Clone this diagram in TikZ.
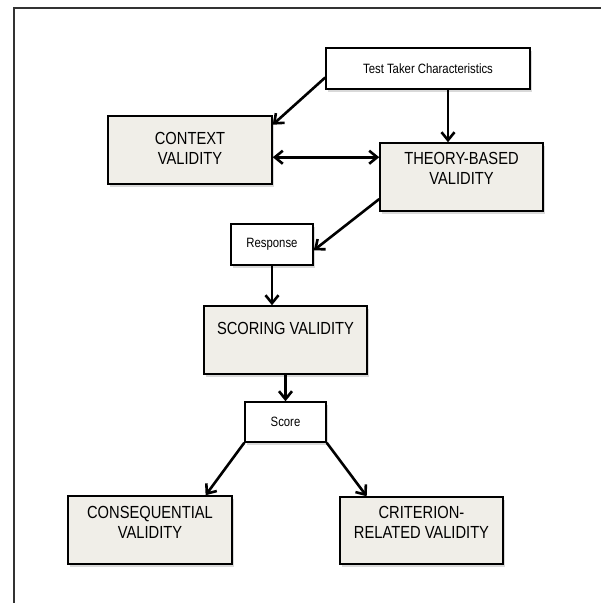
\documentclass[tikz,border=0pt]{standalone}
\usepackage{fontspec}
\newfontfamily\arialc[FakeStretch=0.84]{Liberation Sans}
\usetikzlibrary{arrows.meta,shadows}
\definecolor{boxfill}{HTML}{F0EEE8}
\definecolor{framegray}{HTML}{333333}
\tikzset{
  boxbase/.style={draw=black, line width=1.5pt, inner sep=0pt,
    drop shadow={shadow xshift=2pt, shadow yshift=-2.5pt, opacity=0.25, fill=black!60}},
  bigbox/.style={boxbase, fill=boxfill},
  smallbox/.style={boxbase, fill=white},
  bigtext/.style={inner sep=0pt, align=center, font=\arialc\fontsize{17.5}{20}\selectfont},
  smalltext/.style={inner sep=0pt, align=center, font=\arialc\fontsize{13.5}{15}\selectfont},
  arr/.style={line width=2.6pt, -{Straight Barb[length=8pt,width=13pt]}},
  darr/.style={line width=2.6pt, {Straight Barb[length=8pt,width=13pt]}-{Straight Barb[length=8pt,width=13pt]}}
}
\begin{document}
\begin{tikzpicture}[x=1pt,y=-1pt]
\useasboundingbox (0,0) rectangle (601,603);
% frame
\draw[framegray, line width=2pt] (13.5,603) -- (13.5,7.5) -- (601,7.5);
% boxes
\node[smallbox, minimum width=204pt, minimum height=41pt] (ttc) at (428,68.5) {};
\node[smalltext] (ttcT) at (428,68.5) {Test Taker Characteristics};
\node[bigbox, minimum width=164pt, minimum height=68pt] (context) at (190,150) {};
\node[bigtext] (contextT) at (190,148.5) {CONTEXT\\VALIDITY};
\node[bigbox, minimum width=163pt, minimum height=68pt] (theory) at (461.5,177) {};
\node[bigtext] (theoryT) at (461.5,168) {THEORY-BASED\\VALIDITY};
\node[smallbox, minimum width=82pt, minimum height=41pt] (resp) at (272,244.5) {};
\node[smalltext] (respT) at (272,244.5) {Response};
\node[bigbox, minimum width=163pt, minimum height=68pt] (scoring) at (285.5,340) {};
\node[bigtext] (scoringT) at (285.5,328) {SCORING VALIDITY};
\node[smallbox, minimum width=81pt, minimum height=40pt] (score) at (285.5,422) {};
\node[smalltext] (scoreT) at (285.5,422) {Score};
\node[bigbox, minimum width=164pt, minimum height=68pt] (conseq) at (150,530) {};
\node[bigtext] (conseqT) at (150,522.5) {CONSEQUENTIAL\\VALIDITY};
\node[bigbox, minimum width=163pt, minimum height=67pt] (crit) at (421.5,530.5) {};
\node[bigtext] (critT) at (421.5,522) {CRITERION-\\RELATED VALIDITY};
% connectors
\coordinate (xA) at (448,0);
\draw[arr] (ttc.185) -- (context.17);
\draw[arr] (ttc.south -| xA) -- (theory.north -| xA);
\draw[darr] (context.-5) -- (context.-5 -| theory.west);
\draw[arr] (theory.195) -- (resp.-8);
\draw[arr] (resp.south) -- (resp.south |- scoring.north);
\draw[arr] (scoring.south) -- (score.north);
\draw[arr] (score.south west) -- (conseq.32);
\draw[arr] (score.south east) -- (crit.148);
\end{tikzpicture}
\end{document}
